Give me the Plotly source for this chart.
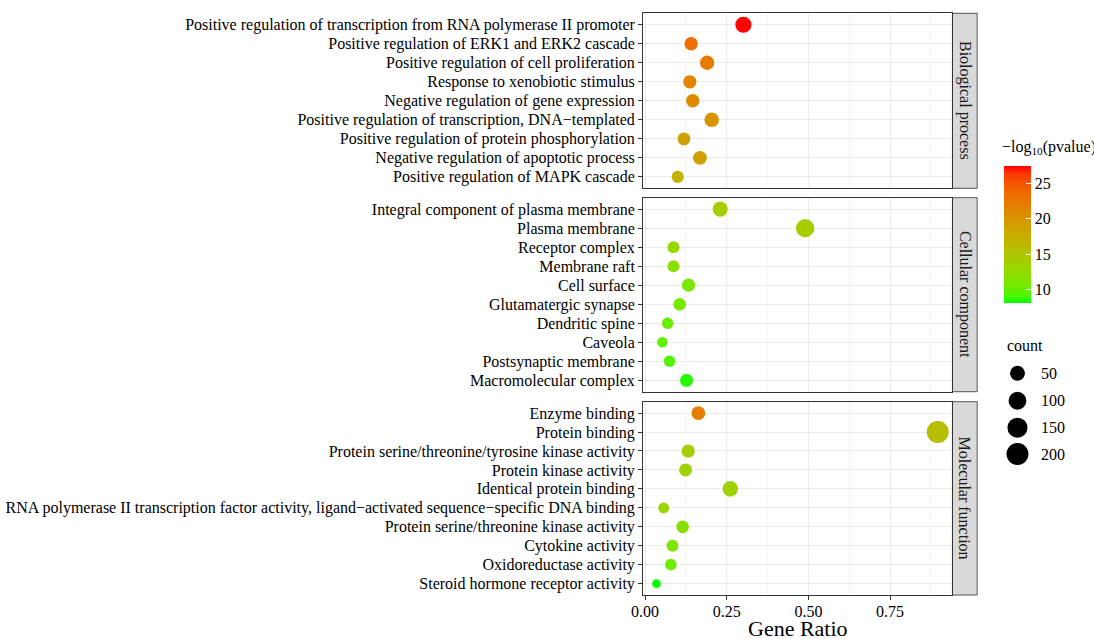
import numpy as np
import plotly.graph_objects as go

# ---------------- data ----------------
bp_terms = [
    "Positive regulation of transcription from RNA polymerase II promoter",
    "Positive regulation of ERK1 and ERK2 cascade",
    "Positive regulation of cell proliferation",
    "Response to xenobiotic stimulus",
    "Negative regulation of gene expression",
    "Positive regulation of transcription, DNA\u2212templated",
    "Positive regulation of protein phosphorylation",
    "Negative regulation of apoptotic process",
    "Positive regulation of MAPK cascade",
]
bp_ratio = [0.301, 0.141, 0.190, 0.137, 0.146, 0.204, 0.119, 0.168, 0.100]
bp_count = [68, 32, 43, 31, 33, 46, 27, 38, 22]
bp_logp = [27.4, 23.2, 22.2, 21.5, 21.0, 20.0, 18.8, 18.6, 17.0]

cc_terms = [
    "Integral component of plasma membrane",
    "Plasma membrane",
    "Receptor complex",
    "Membrane raft",
    "Cell surface",
    "Glutamatergic synapse",
    "Dendritic spine",
    "Caveola",
    "Postsynaptic membrane",
    "Macromolecular complex",
]
cc_ratio = [0.230, 0.490, 0.087, 0.087, 0.133, 0.106, 0.069, 0.053, 0.075, 0.127]
cc_count = [52, 110, 20, 20, 30, 24, 16, 12, 17, 29]
cc_logp = [14.2, 14.0, 12.7, 11.8, 11.0, 10.8, 10.2, 9.8, 9.4, 8.6]

mf_terms = [
    "Enzyme binding",
    "Protein binding",
    "Protein serine/threonine/tyrosine kinase activity",
    "Protein kinase activity",
    "Identical protein binding",
    "RNA polymerase II transcription factor activity, ligand\u2212activated sequence\u2212specific DNA binding",
    "Protein serine/threonine kinase activity",
    "Cytokine activity",
    "Oxidoreductase activity",
    "Steroid hormone receptor activity",
]
mf_ratio = [0.163, 0.896, 0.132, 0.124, 0.261, 0.057, 0.115, 0.084, 0.079, 0.035]
mf_count = [37, 202, 30, 28, 59, 13, 26, 19, 18, 8]
mf_logp = [22.0, 15.8, 14.0, 13.6, 13.5, 13.0, 12.0, 11.2, 10.4, 8.2]

facet_labels = ["Biological process", "Cellular component", "Molecular function"]
x_ticks = [0.0, 0.25, 0.5, 0.75]
x_ticklabels = ["0.00", "0.25", "0.50", "0.75"]
color_ticks = [10, 15, 20, 25]
size_breaks = [50, 100, 150, 200]

# ---------------- scales ----------------
W, H = 1094, 639
FONT = "Liberation Serif"
FS = 16


def hex_to_rgb(h):
    h = h.lstrip("#")
    return [int(h[i:i + 2], 16) for i in (0, 2, 4)]


def rgb_to_lab(rgb):
    c = np.array(rgb) / 255.0
    c = np.where(c <= 0.04045, c / 12.92, ((c + 0.055) / 1.055) ** 2.4)
    M = np.array([[0.4124, 0.3576, 0.1805], [0.2126, 0.7152, 0.0722], [0.0193, 0.1192, 0.9505]])
    xyz = M @ c / np.array([0.95047, 1.0, 1.08883])
    f = np.where(xyz > 0.008856, np.cbrt(xyz), 7.787 * xyz + 16 / 116)
    return np.array([116 * f[1] - 16, 500 * (f[0] - f[1]), 200 * (f[1] - f[2])])


def lab_to_hex(lab):
    L, a, b = lab
    fy = (L + 16) / 116
    fx = fy + a / 500
    fz = fy - b / 200
    f = np.array([fx, fy, fz])
    xyz = np.where(f > 0.2069, f ** 3, (f - 16 / 116) / 7.787) * np.array([0.95047, 1.0, 1.08883])
    Minv = np.array([[3.2406, -1.5372, -0.4986], [-0.9689, 1.8758, 0.0415], [0.0557, -0.2040, 1.0570]])
    lin = np.clip(Minv @ xyz, 0, 1)
    s = np.where(lin <= 0.0031308, 12.92 * lin, 1.055 * lin ** (1 / 2.4) - 0.055)
    s = np.clip(np.round(s * 255), 0, 255).astype(int)
    return "#%02X%02X%02X" % tuple(s)


lab_lo = rgb_to_lab(hex_to_rgb("#00FF00"))
lab_hi = rgb_to_lab(hex_to_rgb("#FF0000"))
colorscale = [[t, lab_to_hex(lab_lo + t * (lab_hi - lab_lo))] for t in np.linspace(0, 1, 21)]

cmin, cmax = 8.1, 27.45

all_count = bp_count + cc_count + mf_count
nmin, nmax = min(all_count), max(all_count)
dmin, dmax = 8.7, 22.0


def size_of(c):
    c = np.asarray(c, dtype=float)
    return dmin + (dmax - dmin) * np.sqrt(np.clip((c - nmin) / (nmax - nmin), 0, None))


# ---------------- layout geometry (px) ----------------
px_left, px_right = 638, 951
strip_right = 976
panels_px = [(13.3, 188.3), (197.7, 391.7), (401.7, 595.0)]


def yfrac(p):
    return 1 - p / H


fig = go.Figure()

groups = [(bp_terms, bp_ratio, bp_count, bp_logp),
          (cc_terms, cc_ratio, cc_count, cc_logp),
          (mf_terms, mf_ratio, mf_count, mf_logp)]

for i, (terms, ratio, count, logp) in enumerate(groups):
    k = i + 1
    fig.add_trace(go.Scatter(
        x=ratio, y=terms, mode="markers",
        marker=dict(size=size_of(count), color=logp, coloraxis="coloraxis",
                    line=dict(width=0), opacity=1),
        xaxis="x" if k == 1 else f"x{k}", yaxis="y" if k == 1 else f"y{k}",
        showlegend=False, hoverinfo="x+y",
    ))

axis_common = dict(showline=True, mirror=True, linecolor="#333333", linewidth=1.1,
                   zeroline=False, showgrid=True, gridcolor="#EBEBEB", gridwidth=1)

layout = dict(
    width=W, height=H, margin=dict(l=0, r=0, t=0, b=0),
    paper_bgcolor="white", plot_bgcolor="white",
    font=dict(family=FONT, color="black", size=FS),
    showlegend=False,
    coloraxis=dict(
        colorscale=colorscale, cmin=cmin, cmax=cmax,
        colorbar=dict(
            x=1003 / W, xanchor="left", y=yfrac(166), yanchor="top",
            len=137, lenmode="pixels", thickness=27, thicknessmode="pixels",
            outlinewidth=0, tickvals=color_ticks, ticks="inside", ticklen=5,
            tickcolor="white", tickwidth=1, xpad=0, ypad=0,
            tickfont=dict(family=FONT, size=FS, color="black"),
        ),
    ),
)

for i, (terms, *_rest) in enumerate(groups):
    k = i + 1
    n = len(terms)
    top, bot = panels_px[i]
    xa = dict(axis_common, domain=[px_left / W, px_right / W], range=[-0.0076, 0.941],
              tickmode="array", tickvals=x_ticks, ticktext=x_ticklabels,
              minor=dict(tickvals=[0.125, 0.375, 0.625, 0.875], showgrid=True,
                         gridcolor="#F3F3F3", gridwidth=0.6, ticks=""),
              anchor="y" if k == 1 else f"y{k}")
    if k < 3:
        xa.update(showticklabels=False, ticks="")
    else:
        xa.update(ticks="outside", ticklen=3.5, tickcolor="#333333", tickwidth=1,
                  ticklabelstandoff=-2,
                  tickfont=dict(family=FONT, size=FS, color="black"))
    ya = dict(axis_common, domain=[yfrac(bot), yfrac(top)], type="category",
              categoryorder="array", categoryarray=list(reversed(terms)),
              tickmode="linear", tick0=0, dtick=1,
              range=[-0.6, n - 0.4], ticks="outside", ticklen=3.5,
              tickcolor="#333333", tickwidth=1,
              tickfont=dict(family=FONT, size=FS, color="black"),
              anchor="x" if k == 1 else f"x{k}")
    layout["xaxis" if k == 1 else f"xaxis{k}"] = xa
    layout["yaxis" if k == 1 else f"yaxis{k}"] = ya

# size-legend axes
layout["xaxis4"] = dict(domain=[995 / W, 1034 / W], range=[995, 1034], visible=False,
                        fixedrange=True, anchor="y4")
layout["yaxis4"] = dict(domain=[yfrac(470), yfrac(355)], range=[470, 355], visible=False,
                        fixedrange=True, anchor="x4")
fig.update_layout(**layout)

legend_y = [373.3, 400.7, 427.7, 454.0]
fig.add_trace(go.Scatter(
    x=[1016.7] * len(size_breaks), y=legend_y, mode="markers",
    marker=dict(size=size_of(size_breaks), color="#000000", opacity=1, line=dict(width=0)),
    xaxis="x4", yaxis="y4", showlegend=False, hoverinfo="skip",
))

shapes = []
annotations = []
# strips
for i, lab in enumerate(facet_labels):
    top, bot = panels_px[i]
    shapes.append(dict(type="rect", xref="paper", yref="paper",
                       x0=px_right / W, x1=strip_right / W, y0=yfrac(bot), y1=yfrac(top),
                       fillcolor="#D9D9D9", line=dict(color="#555555", width=1), layer="below"))
    annotations.append(dict(text=lab, x=(px_right + strip_right) / 2 / W, y=yfrac((top + bot) / 2),
                            xref="paper", yref="paper", showarrow=False, textangle=90,
                            font=dict(family=FONT, size=FS, color="#1A1A1A"),
                            xanchor="center", yanchor="middle"))
# colorbar left ticks
for v in color_ticks:
    ypx = 166 + (cmax - v) / (cmax - cmin) * 137
    shapes.append(dict(type="line", xref="paper", yref="paper",
                       x0=1003.3 / W, x1=1008.7 / W, y0=yfrac(ypx), y1=yfrac(ypx),
                       line=dict(color="white", width=1)))

annotations.append(dict(text="\u2212log<sub>10</sub>(pvalue)", x=999 / W, y=yfrac(147),
                        xref="paper", yref="paper", showarrow=False, xanchor="left",
                        yanchor="middle", font=dict(family=FONT, size=FS, color="black")))
annotations.append(dict(text="count", x=1004 / W, y=yfrac(345), xref="paper", yref="paper",
                        showarrow=False, xanchor="left", yanchor="middle",
                        font=dict(family=FONT, size=FS, color="black")))
for b, ypx in zip(size_breaks, legend_y):
    annotations.append(dict(text=str(b), x=1038 / W, y=yfrac(ypx), xref="paper", yref="paper",
                            showarrow=False, xanchor="left", yanchor="middle",
                            font=dict(family=FONT, size=FS, color="black")))
annotations.append(dict(text="Gene Ratio", x=(px_left + px_right) / 2 / W, y=yfrac(628),
                        xref="paper", yref="paper", showarrow=False, xanchor="center",
                        yanchor="middle", font=dict(family=FONT, size=22, color="black")))

fig.update_layout(shapes=shapes, annotations=annotations)
fig.write_html("out.html", config={"displayModeBar": False},
               post_script="document.body.style.margin='0px';document.body.style.overflow='hidden';")
